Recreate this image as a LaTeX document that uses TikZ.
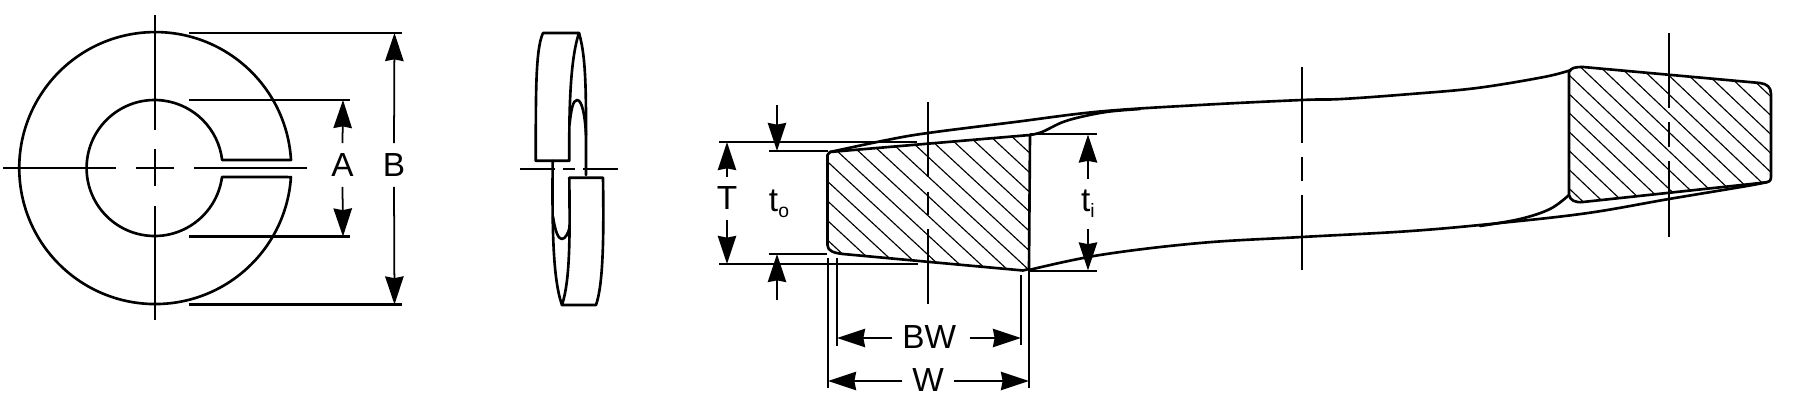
\documentclass[tikz,border=0pt]{standalone}
\usepackage{fontspec}
\setmainfont{Liberation Sans}
\usetikzlibrary{arrows.meta, positioning, calc}
\newcommand{\lowsub}[1]{\raisebox{-3.5pt}{\fontsize{11}{11}\selectfont #1}}
\tikzset{
  objline/.style={line width=1.5pt,line cap=round,line join=round},
  thinline/.style={line width=0.9pt},
  hatchline/.style={line width=0.65pt},
  dimline/.style={line width=1pt,-{Stealth[length=16pt,width=10.5pt,inset=1pt]}},
  extline/.style={line width=1.25pt},
  dimtext/.style={inner sep=0pt,font=\fontsize{19}{19}\selectfont}
}
\begin{document}
\begin{tikzpicture}[x=0.02cm,y=-0.02cm]
\useasboundingbox (0,0) rectangle (1793,408);
% Front view of the washer
\draw[objline] (223,160) -- (291,160) arc[start angle=-3.4,end angle=-356.2,radius=136] -- (222,177)
  arc[start angle=7.6,end angle=353.2,radius=68] -- cycle;
% Centre lines
\draw[thinline] (155,15) -- (155,130) (155,149) -- (155,186) (155,206) -- (155,320);
\draw[thinline] (3,168) -- (116,168) (136,168) -- (174,168) (194,168) -- (307,168);
% Extension lines
\draw[extline] (189,33) -- (402,33) (189,304.5) -- (402,304.5);
\draw[extline] (189,100) -- (350,100) (189,236.5) -- (350,236.5);
% A and B
\coordinate (Atop) at (343,100);
\coordinate (Abot) at (343,236.5);
\coordinate (Btop) at (394.5,33);
\coordinate (Bbot) at (394.5,304.5);
\node[dimtext,minimum height=43*0.5669pt] (dimA) at (342.5,165) {A};
\node[dimtext,minimum height=43*0.5669pt] (dimB) at (394,165) {B};
\draw[dimline] (dimA.north) -- (Atop);
\draw[dimline] (dimA.south) -- (Abot);
\draw[dimline] (dimB.north) -- (Btop);
\draw[dimline] (dimB.south) -- (Bbot);
% Side view
\draw[objline] (543,33) -- (579,33) .. controls (570,60) and (569,110) .. (569.3,160.7) -- (535.7,160.7)
  .. controls (536,100) and (535,50) .. (543,33);
\draw[objline] (579,33) .. controls (587,60) and (586,100) .. (586,175);
\draw[objline] (569.5,125) .. controls (571,110) and (573,100) .. (577,100) .. controls (582,100) and (585,115) .. (586,135);
\draw[objline] (569.3,177.7) -- (603,177.7) .. controls (604,240) and (603,285) .. (596,305) -- (562,305)
  .. controls (570,280) and (570,240) .. (569.3,177.7);
\draw[objline] (552.7,161) .. controls (552,230) and (553,280) .. (562,305);
\draw[objline] (553,217) .. controls (555,230) and (558,239) .. (561.7,239) .. controls (565,239) and (568,234) .. (569.5,228);
\draw[thinline] (520,169) -- (555,169) (563,169) -- (575,169) (583,169) -- (618,169);
% Section at the cut end
\begin{scope}
\clip (827.5,155) -- (830,152) -- (1030,135) -- (1029,269) -- (1023,270.5) -- (930,262) -- (843,254)
  .. controls (834,253) and (827.5,251) .. (827.5,245) -- cycle;
\foreach \i in {0,...,17} {
  \pgfmathsetmacro{\y}{161.7-13*19.6+\i*19.6}
  \draw[hatchline] (827.5,\y) -- ++(300,278);
}
\end{scope}
\draw[objline] (827.5,155) -- (830,152) -- (1030,135) -- (1029,269) -- (1023,270.5) -- (930,262) -- (843,254)
  .. controls (834,253) and (827.5,251) .. (827.5,245) -- cycle;
% Section at the far end
\begin{scope}
\clip (1569,72) .. controls (1571,68) and (1574,67) .. (1583,67) -- (1760,83) .. controls (1767,84) and (1771,87) .. (1771,94)
  -- (1771,177) .. controls (1771,181) and (1769,182) .. (1765,182.5) -- (1583,202) .. controls (1575,203) and (1570,200) .. (1569,195) -- cycle;
\foreach \i in {0,...,17} {
  \pgfmathsetmacro{\y}{75-10*18.9+\i*18.9}
  \draw[hatchline] (1569,\y) -- ++(300,285);
}
\end{scope}
\draw[objline] (1569,72) .. controls (1571,68) and (1574,67) .. (1583,67) -- (1760,83) .. controls (1767,84) and (1771,87) .. (1771,94)
  -- (1771,177) .. controls (1771,181) and (1769,182) .. (1765,182.5) -- (1583,202) .. controls (1575,203) and (1570,200) .. (1569,195) -- cycle;
% Outline between the sections
\draw[objline] plot[smooth,tension=0.6] coordinates {(830,152) (887,140) (928,133) (1015,122) (1100,111.5) (1200,105) (1302,100) (1342,99) (1411,94) (1477,88) (1544,77) (1571,70)};
\draw[objline] plot[smooth,tension=0.6] coordinates {(1030,135) (1042,132) (1063,122) (1085,116) (1110,111.5) (1140,109)};
\draw[objline] plot[smooth,tension=0.6] coordinates {(1029,270) (1100,255) (1200,243) (1302,237) (1411,231) (1500,223) (1588,213) (1669,199) (1747,186) (1767,182)};
\draw[objline] plot[smooth,tension=0.6] coordinates {(1569,195) (1550,209) (1520,219) (1480,226)};
% Centre lines of the strip
\draw[thinline] (928,102) -- (928,177) (928,192) -- (928,215) (928,229) -- (928,304);
\draw[thinline] (1302,67) -- (1302,143) (1302,157) -- (1302,181) (1302,195) -- (1302,270);
\draw[thinline] (1669,33) -- (1669,108) (1669,122) -- (1669,147) (1669,161) -- (1669,237);
% Extension lines at the section
\draw[extline] (719,142) -- (917,142) (719,264) -- (918,264);
\draw[extline] (769,151) -- (828,151) (769,254) -- (827,254);
\draw[extline] (1030,134) -- (1097,134) (1029,271) -- (1097,271);
\draw[extline] (828,258) -- (828,388) (1029,270) -- (1029,388);
\draw[extline] (837,258) -- (837,346) (1021,275) -- (1021,345);
% T, to and ti
\coordinate (Ttop) at (727,142);
\coordinate (Tbot) at (727,264);
\coordinate (tobegin) at (777,105);
\coordinate (totop) at (777,151);
\coordinate (toend) at (777,300);
\coordinate (tobot) at (777,254);
\coordinate (titop) at (1088,134.5);
\coordinate (tibot) at (1088,270.5);
\node[dimtext,minimum height=43*0.5669pt] (dimT) at (727,198.5) {T};
\node[dimtext,anchor=base] (dimto) at (779,211.7) {t\lowsub{o}};
\node[dimtext,anchor=base,inner ysep=6pt] (dimti) at (1088,211.7) {t\lowsub{i}};
\draw[dimline] (dimT.north) -- (Ttop);
\draw[dimline] (dimT.south) -- (Tbot);
\draw[dimline] (tobegin) -- (totop);
\draw[dimline] (toend) -- (tobot);
\draw[dimline] (dimti.north) -- (titop);
\draw[dimline] (dimti.south) -- (tibot);
% BW and W
\coordinate (BWleft) at (837,338);
\coordinate (BWright) at (1021,338);
\coordinate (Wleft) at (828,381);
\coordinate (Wright) at (1029,381);
\node[dimtext,minimum width=77*0.5669pt,minimum height=20pt] (dimBW) at (931,338) {\raisebox{1.5pt}{\hspace*{-2pt}BW}};
\node[dimtext,minimum width=51*0.5669pt,minimum height=20pt] (dimW) at (928,381) {\raisebox{1.5pt}{W}};
\draw[dimline] (dimBW.west) -- (BWleft);
\draw[dimline] (dimBW.east) -- (BWright);
\draw[dimline] (dimW.west) -- (Wleft);
\draw[dimline] (dimW.east) -- (Wright);
\end{tikzpicture}
\end{document}
